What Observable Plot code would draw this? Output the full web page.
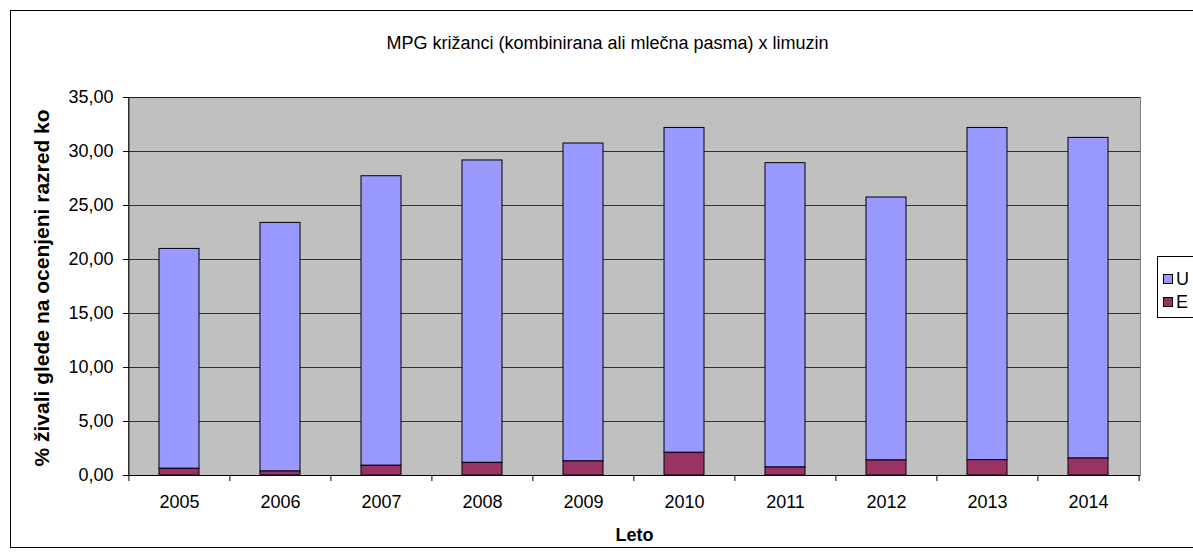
<!DOCTYPE html>
<html><head><meta charset="utf-8">
<script src="https://cdn.jsdelivr.net/npm/d3@7"></script>
<script src="https://cdn.jsdelivr.net/npm/@observablehq/plot@0.6"></script>
<style>
body{margin:0;background:#fff;font-family:"Liberation Sans",Arial,sans-serif;}
#wrap{position:relative;width:1193px;height:558px;overflow:hidden;background:#fff;}
#wrap svg{position:absolute;left:0;top:0;}
#frame{position:absolute;left:10px;top:10px;width:1300px;height:538px;border:1px solid #000;box-sizing:border-box;}
#legend{position:absolute;left:1157px;top:256px;width:120px;height:62px;border:1px solid #000;background:#fff;box-sizing:border-box;font-size:18px;}
.li{position:absolute;left:5px;height:20px;line-height:20px;white-space:nowrap;}
.sw{display:inline-block;width:8px;height:8px;border:1px solid #000;margin-right:3px;vertical-align:middle;position:relative;top:-1px;}
</style>
</head><body>
<div id="wrap"><div id="frame"></div></div>
<script>
const years = ["2005","2006","2007","2008","2009","2010","2011","2012","2013","2014"];
const seriesNames = ["U","E"];
const seriesColors = ["#9999FF","#993366"];
const valuesU = [20.36,23.02,26.81,28.00,29.44,30.08,28.18,24.35,30.76,29.69];
const valuesE = [0.62,0.37,0.90,1.17,1.30,2.10,0.74,1.39,1.42,1.57];
const yTicks = [0,5,10,15,20,25,30,35];
const title = "MPG križanci (kombinirana ali mlečna pasma) x limuzin";
const yLabel = "% živali glede na ocenjeni razred ko";
const xLabel = "Leto";

const table = [];
years.forEach((yr,i)=>{
  table.push({year:yr, series:"U", value:valuesU[i]});
  table.push({year:yr, series:"E", value:valuesE[i]});
});

const mL=128, mR=53, W=1193;
const step = (W-mL-mR)/years.length;

const chart = Plot.plot({
  width:W, height:558,
  marginLeft:mL, marginRight:mR, marginTop:97, marginBottom:83,
  style:{fontFamily:'"Liberation Sans",Arial,sans-serif', fontSize:"18px", color:"#000", background:"transparent"},
  x:{domain:years, paddingInner:0.6, paddingOuter:0.3, label:null},
  y:{domain:[0,35], label:null},
  color:{domain:seriesNames, range:seriesColors},
  marks:[
    Plot.frame({fill:"#c0c0c0", stroke:"#808080"}),
    Plot.gridY(yTicks, {stroke:"#000", strokeOpacity:0.75}),
    Plot.barY(table, Plot.stackY({x:"year", y:"value", fill:"series", order:["E","U"], stroke:"#000", strokeWidth:1})),
    Plot.ruleY([0], {stroke:"#000"}),
    Plot.ruleX([years[0]], {dx:-step/2, stroke:"#000"}),
    Plot.axisY(yTicks, {tickFormat:d=>d.toFixed(2).replace(".",","), tickSize:5, tickPadding:10, label:null, stroke:"#000", fontSize:18}),
    Plot.axisX({tickSize:0, tickPadding:20, label:null, fontSize:18}),
    Plot.axisX(years, {tickSize:6, tickFormat:()=>"", dx:-step/2, label:null, stroke:"#000"}),
    Plot.axisX([years[years.length-1]], {tickSize:6, tickFormat:()=>"", dx:step/2, label:null, stroke:"#000"}),
    Plot.text([title], {text:d=>d, frameAnchor:"top", lineAnchor:"middle", dy:-54, dx:-27, fontSize:18}),
    Plot.text([yLabel], {text:d=>d, frameAnchor:"bottom-left", lineAnchor:"middle", dx:-86, dy:-9, rotate:-90, textAnchor:"start", fontWeight:"bold", fontSize:21}),
    Plot.text([xLabel], {text:d=>d, frameAnchor:"bottom", lineAnchor:"middle", dy:60, fontWeight:"bold", fontSize:18})
  ]
});
const wrap = document.getElementById("wrap");
wrap.appendChild(chart);

const legend = document.createElement("div");
legend.id = "legend";
seriesNames.forEach((n,i)=>{
  const it = document.createElement("div");
  it.className = "li";
  it.style.top = (12 + i*23) + "px";
  const sw = document.createElement("span");
  sw.className = "sw";
  sw.style.background = seriesColors[i];
  it.appendChild(sw);
  it.appendChild(document.createTextNode(n));
  legend.appendChild(it);
});
wrap.appendChild(legend);
</script>
</body></html>
